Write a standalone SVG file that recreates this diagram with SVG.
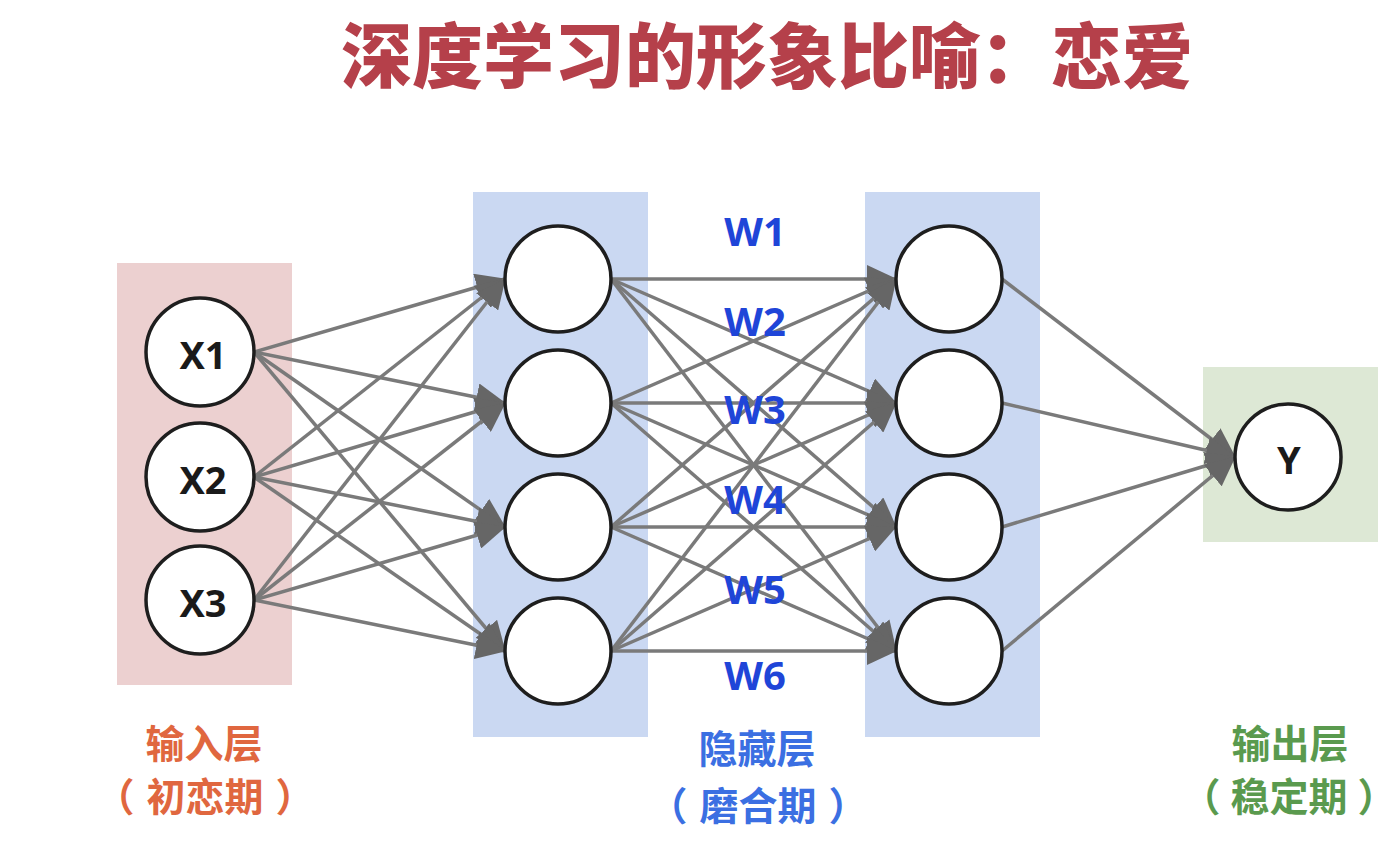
<svg xmlns="http://www.w3.org/2000/svg" width="1400" height="848" viewBox="0 0 1400 848">
<style>
.node{fill:#fff;stroke:#1e1e1e;stroke-width:3.5}
.nlab{font-family:"Noto Sans","Open Sans",sans-serif;font-weight:700;font-size:38px;fill:#1a1a1a;text-anchor:middle;dominant-baseline:central}
.w{font-family:"Noto Sans","Open Sans",sans-serif;font-weight:700;font-size:40px;fill:#1f45d8;text-anchor:middle}
.cn{font-family:"Noto Sans CJK SC",sans-serif;font-weight:700;font-size:39px;text-anchor:middle}
.edge{stroke:#7a7a7a;stroke-width:3.5;fill:none;marker-end:url(#ah)}
</style>
<defs>
<marker id="ah" markerUnits="userSpaceOnUse" markerWidth="30" markerHeight="28" viewBox="0 0 30 28" refX="29" refY="14" orient="auto">
<path d="M0,0 L30,14 L0,28 Z" fill="#666"/>
</marker>
</defs>
<rect width="1400" height="848" fill="#fff"/>
<text x="767" y="82" font-family="Noto Sans CJK SC,sans-serif" font-weight="900" font-size="71" fill="#b5404a" text-anchor="middle">深度学习的形象比喻：恋爱</text>
<g id="layers">
<rect id="input-layer" x="117" y="263" width="175" height="422" fill="#ecd0d0"/>
<rect id="hidden-layer-1" x="473" y="192" width="175" height="545" fill="#cad8f2"/>
<rect id="hidden-layer-2" x="865" y="192" width="175" height="545" fill="#cad8f2"/>
<rect id="output-layer" x="1203" y="367" width="175" height="175" fill="#dde8d5"/>
</g>
<g id="connectors">
<line class="edge" x1="254" y1="352" x2="505" y2="279"/>
<line class="edge" x1="254" y1="352" x2="505" y2="403"/>
<line class="edge" x1="254" y1="352" x2="505" y2="527"/>
<line class="edge" x1="254" y1="352" x2="505" y2="651"/>
<line class="edge" x1="254" y1="477" x2="505" y2="279"/>
<line class="edge" x1="254" y1="477" x2="505" y2="403"/>
<line class="edge" x1="254" y1="477" x2="505" y2="527"/>
<line class="edge" x1="254" y1="477" x2="505" y2="651"/>
<line class="edge" x1="254" y1="600" x2="505" y2="279"/>
<line class="edge" x1="254" y1="600" x2="505" y2="403"/>
<line class="edge" x1="254" y1="600" x2="505" y2="527"/>
<line class="edge" x1="254" y1="600" x2="505" y2="651"/>
<line class="edge" x1="611" y1="279" x2="896" y2="279"/>
<line class="edge" x1="611" y1="279" x2="896" y2="403"/>
<line class="edge" x1="611" y1="279" x2="896" y2="527"/>
<line class="edge" x1="611" y1="279" x2="896" y2="651"/>
<line class="edge" x1="611" y1="403" x2="896" y2="279"/>
<line class="edge" x1="611" y1="403" x2="896" y2="403"/>
<line class="edge" x1="611" y1="403" x2="896" y2="527"/>
<line class="edge" x1="611" y1="403" x2="896" y2="651"/>
<line class="edge" x1="611" y1="527" x2="896" y2="279"/>
<line class="edge" x1="611" y1="527" x2="896" y2="403"/>
<line class="edge" x1="611" y1="527" x2="896" y2="527"/>
<line class="edge" x1="611" y1="527" x2="896" y2="651"/>
<line class="edge" x1="611" y1="651" x2="896" y2="279"/>
<line class="edge" x1="611" y1="651" x2="896" y2="403"/>
<line class="edge" x1="611" y1="651" x2="896" y2="527"/>
<line class="edge" x1="611" y1="651" x2="896" y2="651"/>
<line class="edge" x1="1002" y1="279" x2="1235" y2="457"/>
<line class="edge" x1="1002" y1="403" x2="1235" y2="457"/>
<line class="edge" x1="1002" y1="527" x2="1235" y2="457"/>
<line class="edge" x1="1002" y1="651" x2="1235" y2="457"/>
</g>
<g id="x1"><circle class="node" cx="200" cy="352" r="54"/><text class="nlab" x="203" y="354">X1</text></g>
<g id="x2"><circle class="node" cx="200" cy="477" r="54"/><text class="nlab" x="203" y="479">X2</text></g>
<g id="x3"><circle class="node" cx="200" cy="600" r="54"/><text class="nlab" x="203" y="602">X3</text></g>
<g id="h1-1"><circle class="node" cx="558" cy="279" r="53"/></g>
<g id="h1-2"><circle class="node" cx="558" cy="403" r="53"/></g>
<g id="h1-3"><circle class="node" cx="558" cy="527" r="53"/></g>
<g id="h1-4"><circle class="node" cx="558" cy="651" r="53"/></g>
<g id="h2-1"><circle class="node" cx="949" cy="279" r="53"/></g>
<g id="h2-2"><circle class="node" cx="949" cy="403" r="53"/></g>
<g id="h2-3"><circle class="node" cx="949" cy="527" r="53"/></g>
<g id="h2-4"><circle class="node" cx="949" cy="651" r="53"/></g>
<g id="y"><circle class="node" cx="1288" cy="457" r="53"/><text class="nlab" x="1289" y="459">Y</text></g>
<g id="weights">
<text class="w" x="755" y="246">W1</text>
<text class="w" x="755" y="336">W2</text>
<text class="w" x="755" y="424">W3</text>
<text class="w" x="755" y="514">W4</text>
<text class="w" x="755" y="604">W5</text>
<text class="w" x="755" y="690">W6</text>
</g>
<g id="labels">
<text class="cn" x="204" y="758" fill="#e0673f">输入层</text>
<text class="cn" x="205" y="811" fill="#e0673f">（<tspan dx="12">初恋期</tspan><tspan dx="12">）</tspan></text>
<text class="cn" x="757" y="763" fill="#3b6fe2">隐藏层</text>
<text class="cn" x="758" y="820" fill="#3b6fe2">（<tspan dx="12">磨合期</tspan><tspan dx="12">）</tspan></text>
<text class="cn" x="1290" y="758" fill="#5a9a4e">输出层</text>
<text class="cn" x="1289" y="811" fill="#5a9a4e">（<tspan dx="10">稳定期</tspan><tspan dx="10">）</tspan></text>
</g>
</svg>
